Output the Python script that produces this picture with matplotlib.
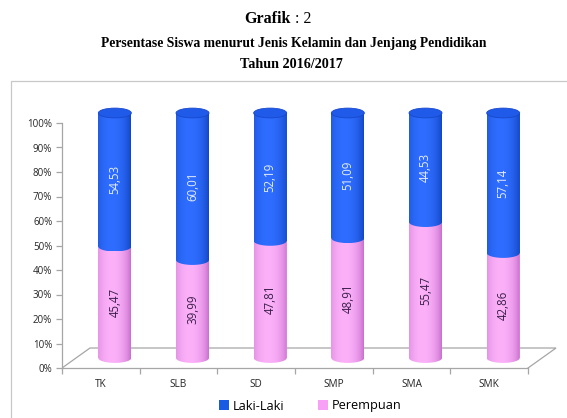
import numpy as np
import matplotlib
matplotlib.use("Agg")
import matplotlib.pyplot as plt
from matplotlib.patches import Ellipse, PathPatch, Rectangle, Patch
from matplotlib.path import Path
from matplotlib import font_manager

# ---------------- data ----------------
categories = ["TK", "SLB", "SD", "SMP", "SMA", "SMK"]
perempuan = [45.47, 39.99, 47.81, 48.91, 55.47, 42.86]
laki_laki = [54.53, 60.01, 52.19, 51.09, 44.53, 57.14]
yticks = [0, 10, 20, 30, 40, 50, 60, 70, 80, 90, 100]
title_lines = ["Persentase Siswa menurut Jenis Kelamin dan Jenjang Pendidikan",
               "Tahun 2016/2017"]

# ---------------- layout ----------------
W, H = 567, 418
fig = plt.figure(figsize=(W / 100, H / 100), dpi=100)
px_cat = 77.67   # pixels per category
px_unit = 2.45   # pixels per percent
xmax, ymax = 6.5, 112
ax = fig.add_axes([62 / W, 50 / H, xmax * px_cat / W, ymax * px_unit / H])
ax.set_xlim(0, xmax)
ax.set_ylim(0, ymax)

# depth offsets (3D look) in data units
depth_dx = 28 / px_cat
depth_dy = 20 / px_unit
dx, dy = depth_dx / 2, depth_dy / 2
bw = 33 / px_cat
eh = 4.0  # ellipse full height (data units)

names = {f.name for f in font_manager.fontManager.ttflist}
title_font = "Liberation Serif"
label_font = "Open Sans" if "Open Sans" in names else "DejaVu Sans"

gray = "#a6a6a6"
n = len(categories)
# floor
ax.plot([0, depth_dx, n + depth_dx, n], [0, depth_dy, depth_dy, 0],
        color=gray, lw=0.9, zorder=1, solid_joinstyle="miter")

for s in ["top", "right"]:
    ax.spines[s].set_visible(False)
ax.spines["left"].set_bounds(0, 100)
ax.spines["bottom"].set_bounds(0, n)
for s in ["left", "bottom"]:
    ax.spines[s].set_color(gray)
    ax.spines[s].set_linewidth(0.9)
ax.set_yticks(yticks)
ax.set_yticklabels([f"{v}%" for v in yticks], fontsize=7, family=label_font, color="#262626")
ax.set_xticks(np.arange(n + 1))
ax.set_xticklabels([])
ax.set_xticks(np.arange(n) + 0.5, minor=True)
ax.set_xticklabels(categories, minor=True, fontsize=7.2, family=label_font, color="#262626")
ax.tick_params(axis="x", which="major", length=4, color=gray, width=0.9)
ax.tick_params(axis="x", which="minor", length=0, pad=8)
ax.tick_params(axis="y", length=4, color=gray, width=0.9, pad=3)


def gradient(dark, light, npts=64):
    t = np.linspace(0, 1, npts)
    k = np.clip(1 - ((t - 0.42) / 0.62) ** 2, 0, 1) ** 0.6
    d = np.array(matplotlib.colors.to_rgb(dark))
    l = np.array(matplotlib.colors.to_rgb(light))
    return (d[None, :] + (l - d)[None, :] * k[:, None])[None, :, :]


def cyl_body(xc, y0, y1, dark, light, z):
    left, right = xc - bw / 2, xc + bw / 2
    th = np.linspace(np.pi, 2 * np.pi, 40)
    verts = [(left, y1)]
    verts += list(zip(xc + bw / 2 * np.cos(th), y0 + eh / 2 * np.sin(th)))
    verts += [(right, y1), (left, y1)]
    codes = [Path.MOVETO] + [Path.LINETO] * (len(verts) - 2) + [Path.CLOSEPOLY]
    clip = PathPatch(Path(verts, codes), transform=ax.transData,
                     facecolor="none", edgecolor="none")
    ax.add_patch(clip)
    im = ax.imshow(gradient(dark, light), extent=[left, right, y0 - eh / 2, y1],
                   aspect="auto", zorder=z, interpolation="bilinear")
    im.set_clip_path(clip)


xs = np.arange(n) + 0.5 + dx
pink_base, blue_base = "#F29BF0", "#1F5CE8"
ax.bar(xs, perempuan, width=bw, bottom=dy, color=pink_base, zorder=2)
ax.bar(xs, laki_laki, width=bw, bottom=np.array(perempuan) + dy, color=blue_base, zorder=2)

for i, xc in enumerate(xs):
    p = perempuan[i]
    l = laki_laki[i]
    cyl_body(xc, dy, p + dy, "#b455bd", "#fbb0f8", 3)
    cyl_body(xc, p + dy, p + l + dy, "#0836ac", "#2e6dff", 4)
    ax.add_patch(Ellipse((xc, p + l + dy), bw, eh, facecolor="#1f5ae8",
                         edgecolor="#1848cc", lw=0.6, zorder=5))
    ax.text(xc, dy + p / 2, f"{p:.2f}".replace(".", ","), rotation=90,
            ha="center", va="center", fontsize=8.3, color="#3a1f4a",
            family=label_font, zorder=6)
    ax.text(xc, dy + p + l / 2, f"{l:.2f}".replace(".", ","), rotation=90,
            ha="center", va="center", fontsize=8.3, color="#e6eeff",
            family=label_font, zorder=6)

ax.set_xlim(0, xmax)
ax.set_ylim(0, ymax)
ax.patch.set_visible(False)

# frame around chart
fig.patches.append(Rectangle((11 / W, -0.05), 1.2, (418 - 81) / H + 0.05,
                             transform=fig.transFigure, fill=False,
                             edgecolor="#c8c8c8", lw=0.9))

# legend
handles = [Patch(facecolor="#1a5be6", edgecolor="none", label="Laki-Laki"),
           Patch(facecolor="#f7a0f5", edgecolor="none", label="Perempuan")]
fig.legend(handles=handles, loc="center", bbox_to_anchor=(310 / W, 1 - 406 / H),
           ncol=2, frameon=False, prop={"family": label_font, "size": 9.2},
           handlelength=0.8, handleheight=0.8, handletextpad=0.3, columnspacing=2.6)

# title
cx = 291 / W
fig.text(cx, 1 - 19 / H, "Grafik", ha="right", va="center", fontsize=11.5,
         fontweight="bold", family=title_font)
fig.text(cx, 1 - 19 / H, " : 2", ha="left", va="center", fontsize=11.5,
         family=title_font)
fig.text(cx + 3 / W, 1 - 44 / H, title_lines[0], ha="center", va="center",
         fontsize=9.8, family=title_font, fontweight="bold")
fig.text(cx, 1 - 64 / H, title_lines[1], ha="center", va="center",
         fontsize=10.2, family=title_font, fontweight="bold")

fig.savefig("out.png", dpi=100)
